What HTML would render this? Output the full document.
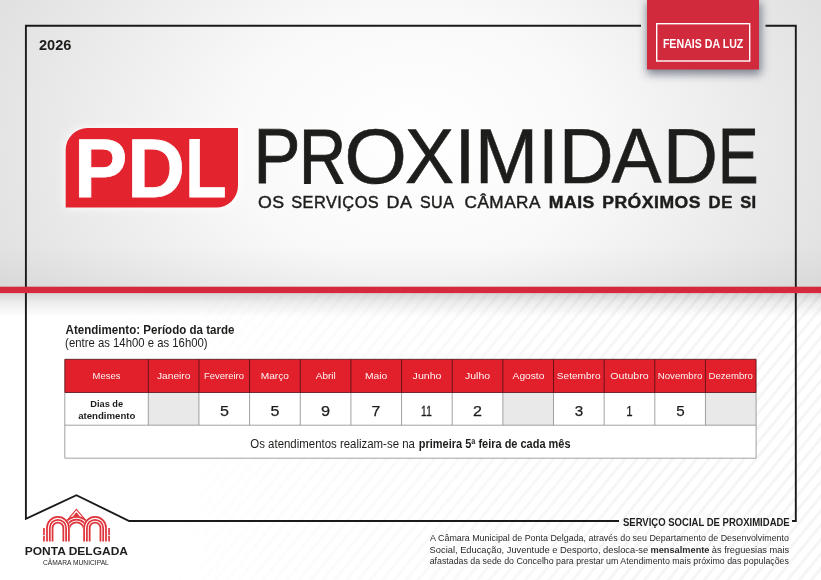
<!DOCTYPE html>
<html lang="pt">
<head>
<meta charset="utf-8">
<title>PDL Proximidade - Fenais da Luz</title>
<style>
html,body{margin:0;padding:0;background:#fff;}
body{width:821px;height:580px;overflow:hidden;position:relative;font-family:"Liberation Sans",sans-serif;}
svg{position:absolute;left:0;top:0;display:block;}
text{font-family:"Liberation Sans",sans-serif;}
</style>
</head>
<body>
<svg width="821" height="580" viewBox="0 0 821 580">
<defs>
  <radialGradient id="bgTop" gradientUnits="userSpaceOnUse" cx="412" cy="140" r="470" gradientTransform="translate(412 140) scale(1 0.72) translate(-412 -140)">
    <stop offset="0" stop-color="#ffffff"/>
    <stop offset="0.38" stop-color="#f9f9f9"/>
    <stop offset="1" stop-color="#dfdfdf"/>
  </radialGradient>
  <linearGradient id="barShadow" x1="0" y1="0" x2="0" y2="1">
    <stop offset="0" stop-color="#000" stop-opacity="0.16"/>
    <stop offset="0.4" stop-color="#000" stop-opacity="0.07"/>
    <stop offset="1" stop-color="#000" stop-opacity="0"/>
  </linearGradient>
  <linearGradient id="botDark" x1="0" y1="0" x2="0" y2="1">
    <stop offset="0" stop-color="#000" stop-opacity="0"/>
    <stop offset="1" stop-color="#000" stop-opacity="0.035"/>
  </linearGradient>
  <pattern id="hatch" width="9.2" height="9.2" patternUnits="userSpaceOnUse" patternTransform="rotate(-50.5)">
    <rect x="0" y="0" width="9.2" height="2.9" fill="#f5f5f5"/>
  </pattern>
  <linearGradient id="hatchFade" x1="0" y1="0" x2="1" y2="0">
    <stop offset="0.15" stop-color="#000"/>
    <stop offset="0.8" stop-color="#fff"/>
  </linearGradient>
  <mask id="hatchMask" maskUnits="userSpaceOnUse" x="0" y="293" width="821" height="287">
    <rect x="0" y="293" width="821" height="287" fill="url(#hatchFade)"/>
  </mask>
  <filter id="glow" x="-20%" y="-30%" width="140%" height="160%">
    <feGaussianBlur stdDeviation="5"/>
  </filter>
  <filter id="tabShadow" x="-20%" y="-20%" width="140%" height="160%">
    <feGaussianBlur stdDeviation="5"/>
  </filter>
</defs>

<!-- backgrounds -->
<rect x="0" y="0" width="821" height="580" fill="#ffffff"/>
<rect x="0" y="293" width="821" height="287" fill="url(#hatch)" mask="url(#hatchMask)"/>
<rect x="0" y="0" width="821" height="288" fill="url(#bgTop)"/>
<rect x="0" y="293" width="821" height="24" fill="url(#barShadow)"/>
<rect x="0" y="245" width="821" height="42" fill="url(#botDark)"/>

<!-- frame -->
<path d="M641 25.8 H25.9 V518.8 L76.4 495.2 L129.2 521 H619" fill="none" stroke="#1a1a1a" stroke-width="1.9"/>
<path d="M765.5 25.8 H795.8 V521 H792" fill="none" stroke="#1a1a1a" stroke-width="1.9"/>

<!-- red bar -->
<rect x="0" y="286.7" width="821" height="6.4" fill="#d42a3c"/>

<!-- tab -->
<rect x="647" y="2" width="114" height="72" fill="#596272" opacity="0.8" filter="url(#tabShadow)"/>
<rect x="647" y="0" width="112" height="69.5" fill="#d22a3d"/>
<rect x="656.7" y="23.7" width="93" height="37.3" fill="none" stroke="#ffffff" stroke-width="1.4"/>

<!-- PDL box -->
<path d="M87.7 128 H238 V185.6 A22 22 0 0 1 216 207.6 H65.7 V150 A22 22 0 0 1 87.7 128 Z" fill="#ffffff" filter="url(#glow)"/>
<path d="M87.7 128 H238 V185.6 A22 22 0 0 1 216 207.6 H65.7 V150 A22 22 0 0 1 87.7 128 Z" fill="#e3232d"/>

<!-- table -->
<rect x="64.8" y="392.5" width="691.30" height="65.70" fill="#ffffff"/>
<rect x="148.30" y="392.5" width="50.65" height="32.70" fill="#e9e9e9"/>
<rect x="502.85" y="392.5" width="50.65" height="32.70" fill="#e9e9e9"/>
<rect x="705.45" y="392.5" width="50.65" height="32.70" fill="#e9e9e9"/>
<rect x="64.8" y="359.3" width="691.30" height="33.20" fill="#e2202c"/>
<path d="M64.80 392.5V458.2M148.30 392.5V425.2M198.95 392.5V425.2M249.60 392.5V425.2M300.25 392.5V425.2M350.90 392.5V425.2M401.55 392.5V425.2M452.20 392.5V425.2M502.85 392.5V425.2M553.50 392.5V425.2M604.15 392.5V425.2M654.80 392.5V425.2M705.45 392.5V425.2M756.10 392.5V458.2M64.8 425.2H756.1M64.8 458.2H756.1" fill="none" stroke="#8a8a8a" stroke-width="0.8"/>
<path d="M64.80 359.3V392.5M148.30 359.3V392.5M198.95 359.3V392.5M249.60 359.3V392.5M300.25 359.3V392.5M350.90 359.3V392.5M401.55 359.3V392.5M452.20 359.3V392.5M502.85 359.3V392.5M553.50 359.3V392.5M604.15 359.3V392.5M654.80 359.3V392.5M705.45 359.3V392.5M756.10 359.3V392.5M64.8 359.3H756.1M64.8 392.5H756.1" fill="none" stroke="#4a1015" stroke-width="0.8"/>

<!-- logo -->
<path d="M68.90 530A7.6 7.6 0 0 1 84.10 530M66.10 530A10.4 10.4 0 0 1 86.90 530M63.30 530A13.2 13.2 0 0 1 89.70 530" fill="none" stroke="#df343b" stroke-width="1.7"/>
<path d="M66.9 520.6L76.4 509.3L85.9 520.6" fill="none" stroke="#df343b" stroke-width="1.1"/>
<path d="M76.4 512.3L80 516.6H72.8Z" fill="#df343b"/>
<path d="M49.75 541.5V527.9A8.2 8.2 0 0 1 66.15 527.9V541.5" fill="none" stroke="#ffffff" stroke-width="7.6"/>
<path d="M47.00 541.5V527.9A10.95 10.95 0 0 1 68.90 527.9V541.5M49.80 541.5V527.9A8.15 8.15 0 0 1 66.10 527.9V541.5M52.55 541.5V527.9A5.4 5.4 0 0 1 63.35 527.9V541.5" fill="none" stroke="#df343b" stroke-width="1.75"/>
<path d="M86.85 541.5V527.9A8.2 8.2 0 0 1 103.25 527.9V541.5" fill="none" stroke="#ffffff" stroke-width="7.6"/>
<path d="M84.10 541.5V527.9A10.95 10.95 0 0 1 106.00 527.9V541.5M86.90 541.5V527.9A8.15 8.15 0 0 1 103.20 527.9V541.5M89.65 541.5V527.9A5.4 5.4 0 0 1 100.45 527.9V541.5" fill="none" stroke="#df343b" stroke-width="1.75"/>
<path d="M43.95 528.1V534.9M43.95 535.8V541.5M109.05 528.1V534.9M109.05 535.8V541.5" fill="none" stroke="#df343b" stroke-width="1.7"/>

<!-- text -->
<text x="38.93" y="49.9" font-size="15.4" fill="#1d1d1b" font-weight="700" textLength="32.45" lengthAdjust="spacingAndGlyphs">2026</text>
<text x="662.88" y="47.5" font-size="12.8" fill="#ffffff" font-weight="700" textLength="80.47" lengthAdjust="spacingAndGlyphs">FENAIS DA LUZ</text>
<text y="196.8" font-size="83.6" fill="#ffffff" font-weight="700" stroke="#ffffff" stroke-width="0.8" aria-label="PDL"><tspan x="73.94" textLength="53.3" lengthAdjust="spacingAndGlyphs">P</tspan><tspan x="127.34" textLength="57.72" lengthAdjust="spacingAndGlyphs">D</tspan><tspan x="185.15" textLength="41.33" lengthAdjust="spacingAndGlyphs">L</tspan></text>
<text y="182.9" font-size="78.6" fill="#1d1d1b" stroke="#1d1d1b" stroke-width="0.8" aria-label="PROXIMIDADE"><tspan x="253.23" textLength="47.34" lengthAdjust="spacingAndGlyphs">P</tspan><tspan x="298.9" stroke-width="1.0" textLength="47.12" lengthAdjust="spacingAndGlyphs">R</tspan><tspan x="344.3" stroke-width="0.5" textLength="62.74" lengthAdjust="spacingAndGlyphs">O</tspan><tspan x="404.91" stroke-width="0.7" textLength="49.0" lengthAdjust="spacingAndGlyphs">X</tspan><tspan x="454.25" stroke-width="0.5" textLength="21.39" lengthAdjust="spacingAndGlyphs">I</tspan><tspan x="474.85" stroke-width="0.5" textLength="63.49" lengthAdjust="spacingAndGlyphs">M</tspan><tspan x="538.05" stroke-width="0.5" textLength="20.79" lengthAdjust="spacingAndGlyphs">I</tspan><tspan x="558.66" stroke-width="0.5" textLength="54.93" lengthAdjust="spacingAndGlyphs">D</tspan><tspan x="611.41" stroke-width="0.5" textLength="50.1" lengthAdjust="spacingAndGlyphs">A</tspan><tspan x="662.72" stroke-width="0.5" textLength="55.3" lengthAdjust="spacingAndGlyphs">D</tspan><tspan x="718.03" stroke-width="1.1" textLength="40.46" lengthAdjust="spacingAndGlyphs">E</tspan></text>
<text y="207.6" font-size="17.4" fill="#1d1d1b" letter-spacing="0.5" stroke="#1d1d1b" stroke-width="0.45" aria-label="OS SERVIÇOS DA SUA CÂMARA MAIS PRÓXIMOS DE SI"><tspan x="257.96" textLength="26.74" lengthAdjust="spacingAndGlyphs">OS</tspan><tspan font-size="0.01"> </tspan><tspan x="291.22" textLength="87.99" lengthAdjust="spacingAndGlyphs">SERVIÇOS</tspan><tspan font-size="0.01"> </tspan><tspan x="386.58" textLength="25.99" lengthAdjust="spacingAndGlyphs">DA</tspan><tspan font-size="0.01"> </tspan><tspan x="419.93" textLength="34.42" lengthAdjust="spacingAndGlyphs">SUA</tspan><tspan font-size="0.01"> </tspan><tspan x="464.54" textLength="76.38" lengthAdjust="spacingAndGlyphs">CÂMARA</tspan><tspan font-size="0.01"> </tspan><tspan x="548.86" font-weight="700" textLength="45.96" lengthAdjust="spacingAndGlyphs">MAIS</tspan><tspan font-size="0.01"> </tspan><tspan x="602.16" font-weight="700" textLength="98.86" lengthAdjust="spacingAndGlyphs">PRÓXIMOS</tspan><tspan font-size="0.01"> </tspan><tspan x="708.62" font-weight="700" textLength="24.18" lengthAdjust="spacingAndGlyphs">DE</tspan><tspan font-size="0.01"> </tspan><tspan x="740.15" font-weight="700" textLength="16.52" lengthAdjust="spacingAndGlyphs">SI</tspan></text>
<text x="65.57" y="333.5" font-size="12.6" fill="#1d1d1b" font-weight="700" textLength="168.92" lengthAdjust="spacingAndGlyphs">Atendimento: Período da tarde</text>
<text x="65.11" y="347" font-size="12.4" fill="#1d1d1b" textLength="142.52" lengthAdjust="spacingAndGlyphs">(entre as 14h00 e as 16h00)</text>
<text x="92.58" y="379.2" font-size="9.8" fill="#fff3f3" textLength="27.77" lengthAdjust="spacingAndGlyphs">Meses</text>
<text x="156.94" y="379.2" font-size="9.8" fill="#fff3f3" textLength="33.47" lengthAdjust="spacingAndGlyphs">Janeiro</text>
<text x="203.98" y="379.2" font-size="9.8" fill="#fff3f3" textLength="40.0" lengthAdjust="spacingAndGlyphs">Fevereiro</text>
<text x="260.72" y="379.2" font-size="9.8" fill="#fff3f3" textLength="28.18" lengthAdjust="spacingAndGlyphs">Março</text>
<text x="315.7" y="379.2" font-size="9.8" fill="#fff3f3" textLength="20.13" lengthAdjust="spacingAndGlyphs">Abril</text>
<text x="365.01" y="379.2" font-size="9.8" fill="#fff3f3" textLength="22.31" lengthAdjust="spacingAndGlyphs">Maio</text>
<text x="412.63" y="379.2" font-size="9.8" fill="#fff3f3" textLength="28.86" lengthAdjust="spacingAndGlyphs">Junho</text>
<text x="465.03" y="379.2" font-size="9.8" fill="#fff3f3" textLength="25.02" lengthAdjust="spacingAndGlyphs">Julho</text>
<text x="512.6" y="379.2" font-size="9.8" fill="#fff3f3" textLength="31.74" lengthAdjust="spacingAndGlyphs">Agosto</text>
<text x="556.89" y="379.2" font-size="9.8" fill="#fff3f3" textLength="43.71" lengthAdjust="spacingAndGlyphs">Setembro</text>
<text x="610.36" y="379.2" font-size="9.8" fill="#fff3f3" textLength="38.28" lengthAdjust="spacingAndGlyphs">Outubro</text>
<text x="657.66" y="379.2" font-size="9.8" fill="#fff3f3" textLength="44.69" lengthAdjust="spacingAndGlyphs">Novembro</text>
<text x="708.57" y="379.2" font-size="9.8" fill="#fff3f3" textLength="44.18" lengthAdjust="spacingAndGlyphs">Dezembro</text>
<text x="90.3" y="407.1" font-size="9.9" fill="#1d1d1b" font-weight="700" textLength="32.87" lengthAdjust="spacingAndGlyphs">Dias de</text>
<text x="78.16" y="418.5" font-size="9.9" fill="#1d1d1b" font-weight="700" textLength="57.3" lengthAdjust="spacingAndGlyphs">atendimento</text>
<text x="219.94" y="416.1" font-size="15.3" fill="#1d1d1b" stroke="#1d1d1b" stroke-width="0.25" textLength="8.94" lengthAdjust="spacingAndGlyphs">5</text>
<text x="270.54" y="416.1" font-size="15.3" fill="#1d1d1b" stroke="#1d1d1b" stroke-width="0.25" textLength="8.94" lengthAdjust="spacingAndGlyphs">5</text>
<text x="320.93" y="416.1" font-size="15.3" fill="#1d1d1b" stroke="#1d1d1b" stroke-width="0.25" textLength="9.06" lengthAdjust="spacingAndGlyphs">9</text>
<text x="371.55" y="416.1" font-size="15.3" fill="#1d1d1b" stroke="#1d1d1b" stroke-width="0.25" textLength="8.82" lengthAdjust="spacingAndGlyphs">7</text>
<text x="473.14" y="416.1" font-size="15.3" fill="#1d1d1b" stroke="#1d1d1b" stroke-width="0.25" textLength="8.94" lengthAdjust="spacingAndGlyphs">2</text>
<text x="574.68" y="416.1" font-size="15.3" fill="#1d1d1b" stroke="#1d1d1b" stroke-width="0.25" textLength="8.45" lengthAdjust="spacingAndGlyphs">3</text>
<text x="626.19" y="416.1" font-size="15.3" fill="#1d1d1b" stroke="#1d1d1b" stroke-width="0.25" textLength="6.35" lengthAdjust="spacingAndGlyphs">1</text>
<text x="676.18" y="416.1" font-size="15.3" fill="#1d1d1b" stroke="#1d1d1b" stroke-width="0.25" textLength="8.45" lengthAdjust="spacingAndGlyphs">5</text>
<text y="416.1" font-size="15.3" fill="#1d1d1b" stroke="#1d1d1b" stroke-width="0.35" aria-label="11"><tspan x="421.04" textLength="5.7" lengthAdjust="spacingAndGlyphs">1</tspan><tspan x="426.26" textLength="5.57" lengthAdjust="spacingAndGlyphs">1</tspan></text>
<text y="447.6" font-size="12" fill="#1d1d1b" aria-label="Os atendimentos realizam-se na primeira 5ª feira de cada mês"><tspan x="250.32" textLength="164.58" lengthAdjust="spacingAndGlyphs">Os atendimentos realizam-se na</tspan><tspan font-size="0.01"> </tspan><tspan x="418.81" font-weight="700" textLength="151.76" lengthAdjust="spacingAndGlyphs">primeira 5ª feira de cada mês</tspan></text>
<text x="622.95" y="525.8" font-size="10.6" fill="#1d1d1b" font-weight="700" textLength="166.79" lengthAdjust="spacingAndGlyphs">SERVIÇO SOCIAL DE PROXIMIDADE</text>
<text x="430.1" y="540.8" font-size="9.4" fill="#2a2a2a" textLength="358.91" lengthAdjust="spacingAndGlyphs">A Câmara Municipal de Ponta Delgada, através do seu Departamento de Desenvolvimento</text>
<text y="552.8" font-size="9.4" fill="#2a2a2a" aria-label="Social, Educação, Juventude e Desporto, desloca-se mensalmente às freguesias mais"><tspan x="429.6" textLength="218.53" lengthAdjust="spacingAndGlyphs">Social, Educação, Juventude e Desporto, desloca-se</tspan><tspan font-size="0.01"> </tspan><tspan x="650.46" font-weight="700" textLength="59.05" lengthAdjust="spacingAndGlyphs">mensalmente</tspan><tspan font-size="0.01"> </tspan><tspan x="711.81" textLength="77.31" lengthAdjust="spacingAndGlyphs">às freguesias mais</tspan></text>
<text x="429.63" y="564.2" font-size="9.4" fill="#2a2a2a" textLength="359.31" lengthAdjust="spacingAndGlyphs">afastadas da sede do Concelho para prestar um Atendimento mais próximo das populações</text>
<text x="24.75" y="555.2" font-size="10.6" fill="#1d1d1b" font-weight="700" textLength="103.21" lengthAdjust="spacingAndGlyphs">PONTA DELGADA</text>
<text x="42.94" y="564.5" font-size="7.2" fill="#262626" textLength="65.87" lengthAdjust="spacingAndGlyphs">CÂMARA MUNICIPAL</text>
</svg>
</body>
</html>
